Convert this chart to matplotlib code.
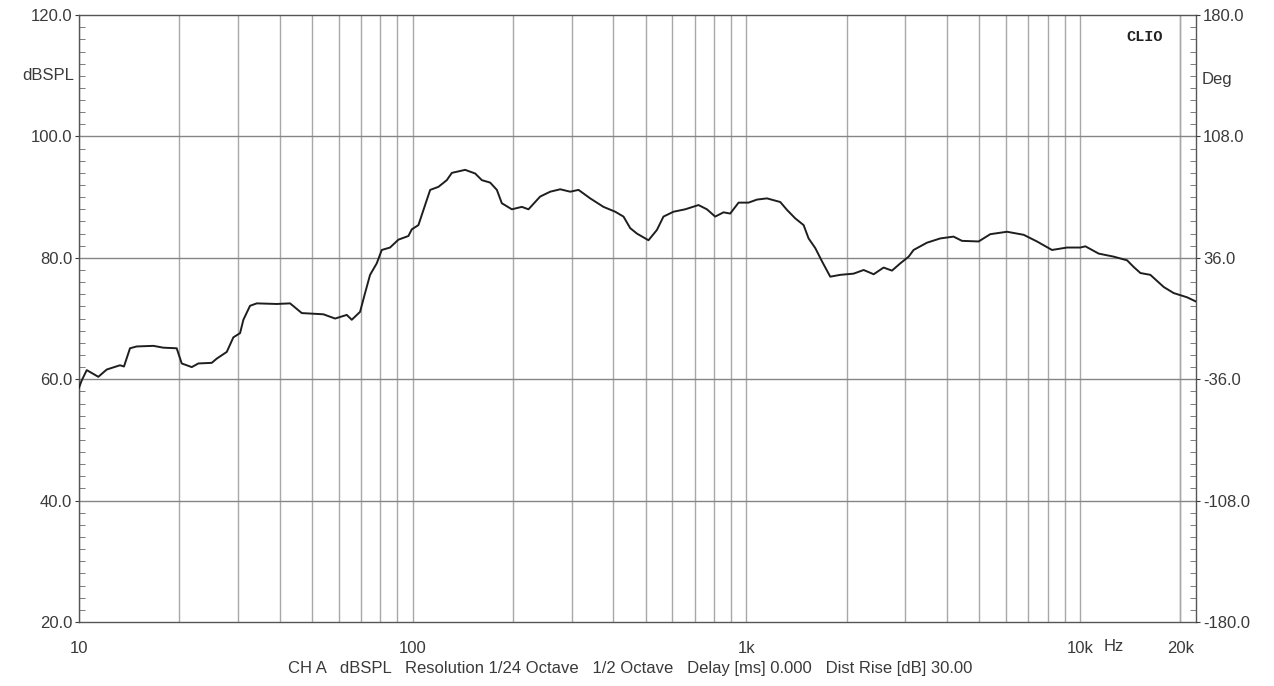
import matplotlib.pyplot as plt
import numpy as np
from matplotlib.ticker import FixedLocator, MultipleLocator, NullFormatter

# frequency response (Hz, dBSPL)
freq = [10, 10.19, 10.55, 11.43, 12.11, 13.27, 13.64, 14.22, 14.89, 16.71,
        17.90, 19.63, 20.32, 21.78, 22.79, 25.0, 25.88, 27.73, 29.02, 30.40,
        31.10, 32.56, 34.11, 39.15, 42.93, 46.54, 54.03, 58.57, 63.48, 65.71,
        69.58, 72.03, 74.56, 78.08, 80.82, 85.59, 90.67, 97.14, 99.45, 104.1,
        109.0, 112.9, 119.5, 126.6, 131.1, 143.7, 154.0, 161.3, 170.8, 178.9,
        185.1, 198.4, 212.5, 222.5, 241.2, 258.5, 277.0, 296.8, 314.3, 340.7,
        373.4, 404.9, 428.7, 449.0, 470.3, 509.4, 539.9, 564.9, 605.3, 656.3,
        719.4, 762.4, 807.2, 855.1, 895.4, 948.5, 1016, 1077, 1154, 1265,
        1325, 1403, 1486, 1538, 1611, 1688, 1786, 1914, 2099, 2249,
        2410, 2581, 2735, 2897, 3069, 3175, 3482, 3816, 4183, 4434,
        4973, 5390, 6049, 6785, 7440, 8252, 9154, 10035, 10390, 11390,
        12630, 13850, 14500, 15190, 16270, 17840, 19110, 20960, 22300]
spl = [58.6, 59.8, 61.5, 60.4, 61.6, 62.3, 62.1, 65.1, 65.4, 65.5,
       65.2, 65.1, 62.6, 62.0, 62.6, 62.7, 63.4, 64.5, 66.9, 67.6,
       69.8, 72.1, 72.5, 72.4, 72.5, 70.9, 70.7, 70.0, 70.6, 69.8,
       71.1, 74.2, 77.2, 79.1, 81.3, 81.7, 83.0, 83.6, 84.7, 85.4,
       88.7, 91.2, 91.7, 92.8, 94.0, 94.5, 93.9, 92.8, 92.4, 91.2,
       89.0, 88.0, 88.4, 88.0, 90.1, 90.9, 91.3, 90.9, 91.2, 89.8,
       88.4, 87.6, 86.8, 84.9, 84.0, 82.9, 84.6, 86.8, 87.6, 88.0,
       88.7, 88.0, 86.8, 87.5, 87.3, 89.1, 89.1, 89.6, 89.8, 89.2,
       87.9, 86.5, 85.4, 83.2, 81.6, 79.4, 76.9, 77.2, 77.4, 78.0,
       77.3, 78.4, 77.9, 79.1, 80.2, 81.3, 82.5, 83.2, 83.5, 82.8,
       82.7, 83.9, 84.3, 83.8, 82.7, 81.3, 81.7, 81.7, 81.9, 80.7,
       80.2, 79.6, 78.5, 77.5, 77.2, 75.2, 74.2, 73.5, 72.8]

xticks = [10, 100, 1000, 10000, 20000]
xticklabels = ['10', '100', '1k', '10k', '20k']
grid_freqs = [m * 10 ** d for d in range(1, 5) for m in range(1, 10)] + [20000]

plt.rcParams['font.family'] = ['Liberation Sans', 'DejaVu Sans']
fs = 12
tc = '#3a3a3a'

fig = plt.figure(figsize=(12.74, 6.86), dpi=100)
ax = fig.add_axes([0.062, 0.0933, 0.8768, 0.8847])

for g in grid_freqs:
    ax.axvline(g, color='#a8a8a8', lw=1.0, zorder=1)
for h in [40, 60, 80, 100]:
    ax.axhline(h, color='#858585', lw=1.0, zorder=1)

ax.plot(freq, spl, color='#1e1e1e', lw=1.4, zorder=3)

ax.set_xscale('log')
ax.set_xlim(10, 22300)
ax.set_ylim(20, 120)

ax.xaxis.set_major_locator(FixedLocator(xticks))
ax.set_xticklabels(xticklabels)
ax.xaxis.set_minor_formatter(NullFormatter())
ax.tick_params(axis='x', which='both', length=0, pad=14, labelsize=fs, colors=tc)

ax.yaxis.set_minor_locator(MultipleLocator(2))
ax.set_yticks([20, 40, 60, 80, 100, 120])
ax.set_yticklabels(['20.0', '40.0', '60.0', '80.0', '100.0', '120.0'])
ax.tick_params(axis='y', which='major', length=3, direction='out', labelsize=fs, colors=tc, pad=2)
ax.tick_params(axis='y', which='minor', length=4, direction='in', color='#666666')

for s in ax.spines.values():
    s.set_color('#555555')
    s.set_linewidth(1.0)

ax2 = ax.twinx()
ax2.set_ylim(-180, 180)
ax2.set_yticks([-180, -108, -36, 36, 108, 180])
ax2.set_yticklabels(['-180.0', '-108.0', '-36.0', '36.0', '108.0', '180.0'])
ax2.yaxis.set_minor_locator(MultipleLocator(7.2))
ax2.tick_params(axis='y', which='major', length=3, direction='out', labelsize=fs, colors=tc, pad=2)
ax2.tick_params(axis='y', which='minor', length=4, direction='in', color='#666666')
for s in ax2.spines.values():
    s.set_visible(False)

ax.text(-0.004, 110, 'dBSPL', transform=ax.get_yaxis_transform(), ha='right', va='center',
        fontsize=fs, color=tc)
ax2.text(1.005, 142, 'Deg', transform=ax2.get_yaxis_transform(), ha='left', va='center',
         fontsize=fs, color=tc)
ax.text(0.97, 0.975, 'CLIO', transform=ax.transAxes, ha='right', va='top',
        fontsize=11, fontweight='bold', family='Liberation Mono', color='#222222')
ax.text(12600, -0.04, 'Hz', transform=ax.get_xaxis_transform(), ha='center', va='center',
        fontsize=fs, color=tc)

fig.text(0.495, 0.026, 'CH A   dBSPL   Resolution 1/24 Octave   1/2 Octave   Delay [ms] 0.000   Dist Rise [dB] 30.00',
         ha='center', va='center', fontsize=fs, color=tc)

fig.savefig('out.png', dpi=100)
